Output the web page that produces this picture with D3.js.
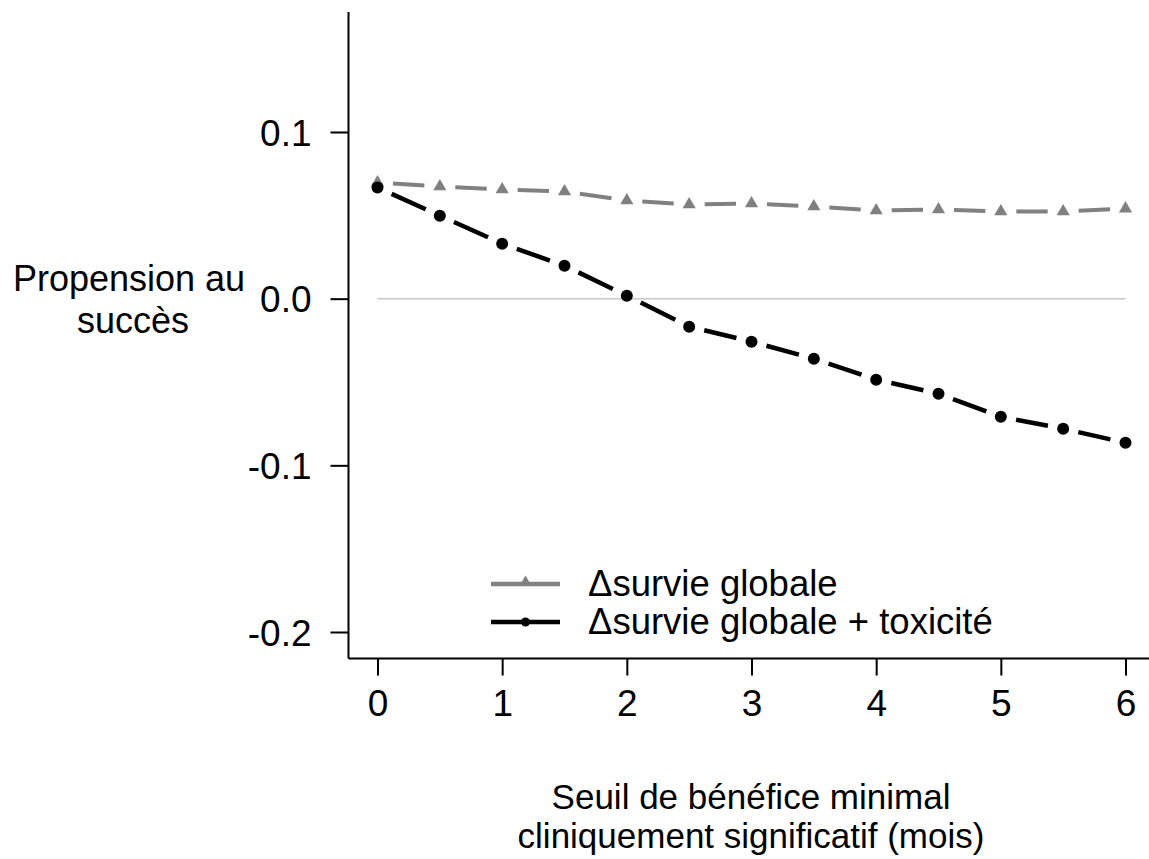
<!DOCTYPE html>
<html>
<head>
<meta charset="utf-8">
<script src="https://cdn.jsdelivr.net/npm/d3@7"></script>
<style>
  html, body { margin: 0; padding: 0; background: #fff; }
  svg { display: block; font-family: "Liberation Sans", Arial, sans-serif; }
</style>
</head>
<body>
<svg id="chart" width="1149" height="859"></svg>
<script>
// Threshold of minimal clinically significant benefit (months)
const thresholds = [0, 0.5, 1, 1.5, 2, 2.5, 3, 3.5, 4, 4.5, 5, 5.5, 6];
// Propensity to success, overall survival only
const survieGlobale = [0.0697, 0.0673, 0.0655, 0.0643, 0.0589, 0.0565, 0.0571, 0.0553, 0.0529, 0.0535, 0.0523, 0.0523, 0.0540];
// Propensity to success, overall survival + toxicity
const survieToxicite = [0.0667, 0.0498, 0.0330, 0.0198, 0.0018, -0.0168, -0.0258, -0.0360, -0.0486, -0.0570, -0.0709, -0.0780, -0.0865];
const xTicks = [0, 1, 2, 3, 4, 5, 6];
const yTicks = [0.1, 0.0, -0.1, -0.2];
const seriesNames = ["\u0394survie globale", "\u0394survie globale + toxicit\u00e9"];

const svg = d3.select("#chart");
const x = d3.scaleLinear().domain([0, 6]).range([377.5, 1125.5]);
const y = d3.scaleLinear().domain([-0.2, 0.1]).range([632, 132]);

const axisLeftX = 348.5, axisBottomY = 658.5;

// plot frame lines (left and bottom only)
svg.append("line").attr("x1", axisLeftX).attr("x2", axisLeftX)
  .attr("y1", 12).attr("y2", axisBottomY)
  .attr("stroke", "#000").attr("stroke-width", 2);
svg.append("line").attr("x1", axisLeftX).attr("x2", 1149)
  .attr("y1", axisBottomY).attr("y2", axisBottomY)
  .attr("stroke", "#000").attr("stroke-width", 2);

// y axis, plain hyphen for negative values
const fmt1 = d3.format(".1f");
const yAxis = d3.axisLeft(y).tickValues(yTicks).tickSize(18).tickPadding(19)
  .tickFormat(d => fmt1(d).replace("\u2212", "-"));
const gy = svg.append("g").attr("transform", `translate(${axisLeftX},0)`).call(yAxis);
gy.select(".domain").remove();
gy.selectAll(".tick line").attr("stroke", "#000").attr("stroke-width", 2);
gy.selectAll(".tick text").attr("font-size", 37).attr("fill", "#000")
  .attr("font-family", "Liberation Sans, Arial, sans-serif").attr("dy", "0.36em");

// x axis
const xAxis = d3.axisBottom(x).tickValues(xTicks).tickSize(17).tickPadding(14)
  .tickFormat(d3.format("d"));
const gx = svg.append("g").attr("transform", `translate(0,${axisBottomY})`).call(xAxis);
gx.select(".domain").remove();
gx.selectAll(".tick line").attr("stroke", "#000").attr("stroke-width", 2);
gx.selectAll(".tick text").attr("font-size", 37).attr("fill", "#000")
  .attr("font-family", "Liberation Sans, Arial, sans-serif");

// zero reference line
svg.append("line").attr("x1", x(0)).attr("x2", x(6))
  .attr("y1", y(0)).attr("y2", y(0))
  .attr("stroke", "#c8c8c8").attr("stroke-width", 1.5);

// dashed connected series: one centered dash per segment between markers
function drawSeries(values, color, width) {
  const pts = thresholds.map((t, i) => [x(t), y(values[i])]);
  const line = d3.line();
  const g = svg.append("g");
  for (let i = 0; i < pts.length - 1; i++) {
    const a = pts[i], b = pts[i + 1];
    const L = Math.hypot(b[0] - a[0], b[1] - a[1]);
    const gap = 15.5;
    const dash = Math.max(L - 2 * gap, 0);
    g.append("path").attr("d", line([a, b]))
      .attr("fill", "none").attr("stroke", color).attr("stroke-width", width)
      .attr("stroke-dasharray", `0,${gap},${dash},${gap + 5}`);
  }
  return g;
}

drawSeries(survieGlobale, "#808080", 4);
drawSeries(survieToxicite, "#000", 4.5);

const tri = d3.symbol().type(d3.symbolTriangle).size(75);
svg.append("g").selectAll("path").data(thresholds).join("path")
  .attr("d", tri)
  .attr("transform", (t, i) => `translate(${x(t)},${y(survieGlobale[i])})`)
  .attr("fill", "#808080");

svg.append("g").selectAll("circle").data(thresholds).join("circle")
  .attr("cx", t => x(t)).attr("cy", (t, i) => y(survieToxicite[i]))
  .attr("r", 6).attr("fill", "#000");

// legend
const legend = svg.append("g");
const legendRows = [
  { name: seriesNames[0], color: "#808080", marker: "tri", y: 584 },
  { name: seriesNames[1], color: "#000", marker: "circle", y: 622 }
];
legendRows.forEach(r => {
  legend.append("line").attr("x1", 491).attr("x2", 560)
    .attr("y1", r.y).attr("y2", r.y)
    .attr("stroke", r.color).attr("stroke-width", 4.5);
  if (r.marker === "tri") {
    legend.append("path").attr("d", d3.symbol().type(d3.symbolTriangle).size(40))
      .attr("transform", `translate(525.5,${r.y - 3})`).attr("fill", r.color);
  } else {
    legend.append("circle").attr("cx", 525.5).attr("cy", r.y).attr("r", 4.5).attr("fill", r.color);
  }
  legend.append("text").attr("x", 588).attr("y", r.y + 12)
    .attr("font-size", 36.5).attr("fill", "#000").text(r.name);
});

// axis titles
const yTitle = svg.append("text").attr("text-anchor", "middle").attr("font-size", 36).attr("fill", "#000");
yTitle.append("tspan").attr("x", 129).attr("y", 291).text("Propension au");
yTitle.append("tspan").attr("x", 133).attr("y", 333).text("succès");

const xTitle = svg.append("text").attr("text-anchor", "middle").attr("font-size", 35).attr("fill", "#000");
xTitle.append("tspan").attr("x", 751).attr("y", 809).text("Seuil de bénéfice minimal");
xTitle.append("tspan").attr("x", 751).attr("y", 848).text("cliniquement significatif (mois)");
</script>
</body>
</html>
